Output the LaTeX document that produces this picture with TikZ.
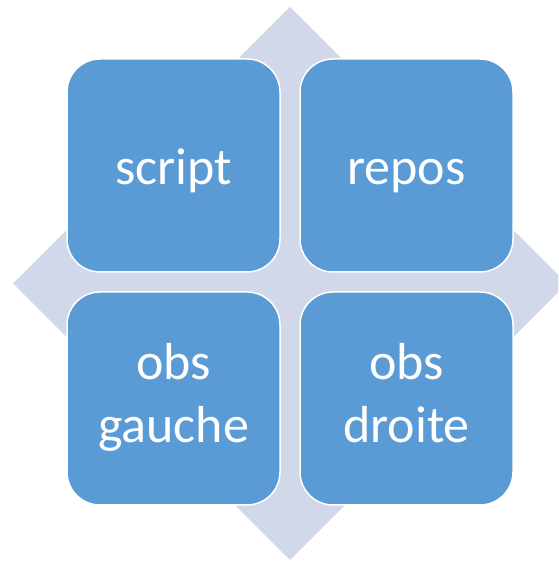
\documentclass[tikz,border=0pt]{standalone}
\usepackage{fontspec}
\setmainfont{Carlito}
\begin{document}
\begin{tikzpicture}[x=1pt,y=1pt]
\definecolor{boxblue}{RGB}{91,155,213}
\definecolor{diam}{RGB}{208,216,234}
\tikzset{tile/.style={draw=white, line width=1.5pt, fill=boxblue, rounded corners=33pt, text=white,
  font=\fontsize{52}{63}\selectfont, align=center, minimum width=213pt, minimum height=213pt, inner sep=0pt,
  execute at begin node={\rule{0pt}{50pt}}, execute at end node={\rule[-11pt]{0pt}{11pt}}}}
\useasboundingbox (0,0) rectangle (558,561);
\begin{scope}
\clip (0,0) rectangle (558,561);
\fill[diam] (290,554) coordinate (dt) -- (567,277.5) coordinate (dr) -- (290,1) coordinate (db) -- (13,277.5) coordinate (dl) -- cycle;
\end{scope}
\node[tile] (script) at (173.5,395.5) {script};
\node[tile] (repos) at (406.5,395.5) {repos};
\node[tile] (obsg) at (173.5,162.5) {obs\\gauche};
\node[tile] (obsd) at (406.5,162.5) {obs\\droite};
\end{tikzpicture}
\end{document}
